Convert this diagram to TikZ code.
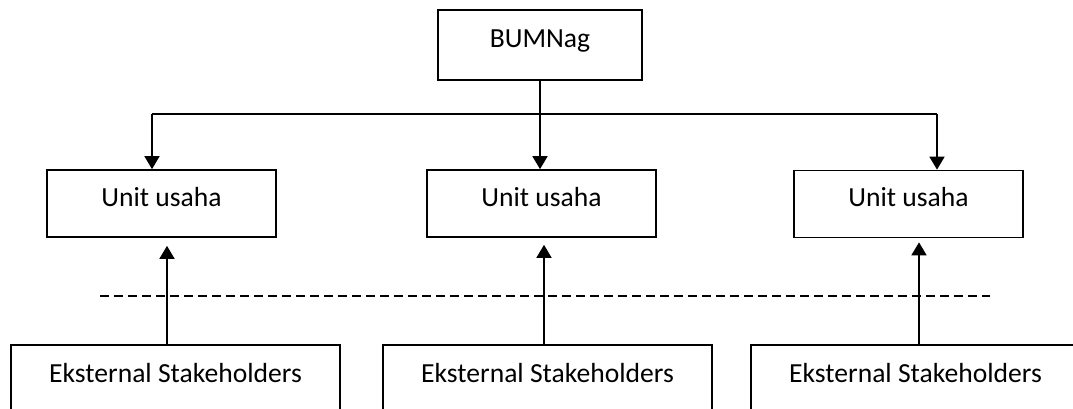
\documentclass[tikz,border=0pt]{standalone}
\usepackage{fontspec}
\setmainfont{Carlito}
\usetikzlibrary{arrows.meta,calc}
\begin{document}
\begin{tikzpicture}[x=1pt,y=-1pt,
  box/.style={draw=black,line width=1.7pt,fill=white,inner sep=0pt,rectangle},
  lbl/.style={anchor=base,inner sep=0pt,font=\fontsize{27.6}{32}\selectfont},
  conn/.style={line width=1.8pt},
  arr/.style={conn,-{Triangle[width=15pt,length=13pt]}},
  sep/.style={line width=1.5pt,dash pattern=on 9pt off 5pt}]
\useasboundingbox (0,0) rectangle (1073,409);
\clip (0,0) rectangle (1073,409);
% top
\node[box,minimum width=204pt,minimum height=70pt] (b) at (540,45) {};
\node[lbl] (bt) at (540,48) {BUMNag};
% unit boxes
\node[box,minimum width=229pt,minimum height=67pt] (u1) at (161.5,203.5) {};
\node[box,minimum width=229pt,minimum height=67pt] (u2) at (541.5,203.5) {};
\node[box,minimum width=229pt,minimum height=67pt] (u3) at (908.5,204) {};
\node[lbl] (u1t) at (161.5,206) {Unit usaha};
\node[lbl] (u2t) at (541.5,206) {Unit usaha};
\node[lbl] (u3t) at (908.5,206) {Unit usaha};
% stakeholder boxes
\node[box,minimum width=329pt,minimum height=90pt] (s1) at (175.5,390) {};
\node[box,minimum width=329pt,minimum height=90pt] (s2) at (547.5,390) {};
\node[box,minimum width=329pt,minimum height=90pt] (s3) at (915.5,390) {};
\node[lbl] (s1t) at (175.5,382) {Eksternal Stakeholders};
\node[lbl] (s2t) at (547.5,382) {Eksternal Stakeholders};
\node[lbl] (s3t) at (915.5,382) {Eksternal Stakeholders};
% connectors from top
\coordinate (j1) at (152,114);
\coordinate (j3) at (937,114);
\draw[conn] (j1) -- (j3);
\draw[arr] (b.south) -- (b.south |- u2.north);
\draw[arr] (j1) -- (j1 |- u1.north);
\draw[arr] (j3) -- (j3 |- u3.north);
% dashed separator
\coordinate (d1) at (100,296);
\coordinate (d2) at (990,296);
\draw[sep] (d1) -- (d2);
% arrows up
\coordinate (a1) at (167,0);
\coordinate (a2) at (544,0);
\coordinate (a3) at (919,0);
\draw[arr,shorten >=8pt] (a1 |- s1.north) -- (a1 |- u1.south);
\draw[arr,shorten >=7pt] (a2 |- s2.north) -- (a2 |- u2.south);
\draw[arr,shorten >=4pt] (a3 |- s3.north) -- (a3 |- u3.south);
\end{tikzpicture}
\end{document}
